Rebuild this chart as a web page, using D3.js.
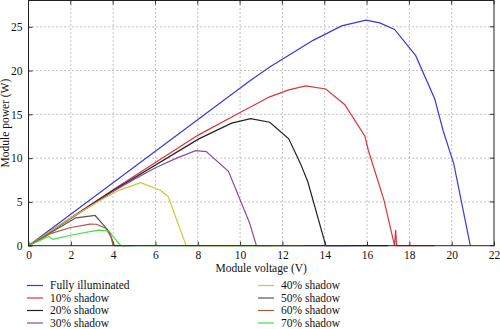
<!DOCTYPE html>
<html><head><meta charset="utf-8">
<script src="https://cdn.jsdelivr.net/npm/d3@7"></script>
<style>body{margin:0;background:#fff}svg{display:block;font-family:"Liberation Serif","DejaVu Serif",serif}</style>
</head><body><svg id="c" width="500" height="329"></svg>
<script>
const seriesNames = ["Fully illuminated","10% shadow","20% shadow","30% shadow","40% shadow","50% shadow","60% shadow","70% shadow"];
const seriesColors = ["#3a3ad2","#d8343e","#222222","#8a4a9e","#c9c935","#555555","#a85a3c","#3ee03e"];
const xTicks = [0,2,4,6,8,10,12,14,16,18,20,22];
const yTicks = [0,5,10,15,20,25];
// [voltage, power] per series
const fully = [[0,0],[10.45,18.8],[11.4,20.4],[13.45,23.45],[14.8,25.1],[15.95,25.75],[16.6,25.45],[17.3,24.7],[18.3,21.7],[19.2,16.75],[19.6,13.1],[20.1,9.35],[20.88,0]];
const shade10 = [[0,0],[4,6.4],[8,12.6],[10,15.2],[11.4,17.0],[12.3,17.8],[13.1,18.25],[14.05,17.9],[14.95,16.1],[15.9,12.5],[16.06,10.9],[16.8,5.2],[17.3,0],[17.35,1.8],[17.4,0],[19.2,0]];
const shade20 = [[0,0],[4,6.3],[8.05,12.2],[9.6,14.0],[10.5,14.5],[11.4,14.1],[12.3,12.2],[12.85,9.4],[13.2,7.3],[14.05,0],[17.0,0]];
const shade30 = [[0,0],[4,6.2],[5,7.6],[6,8.9],[7,10.0],[7.9,10.85],[8.4,10.75],[9.45,8.5],[10.45,2.6],[10.77,0],[15.2,0]];
const shade40 = [[0,0],[2,3.2],[3.4,5.2],[4.3,6.35],[5.3,7.2],[6.25,6.3],[6.6,5.6],[7.45,0],[13.0,0]];
const shade50 = [[0,0],[2.24,3.18],[3.15,3.45],[3.82,1.6],[4.05,0],[5,0]];
const shade60 = [[0,0],[1,1.35],[1.95,2.05],[2.9,2.47],[3.2,2.45],[3.65,2.0],[3.9,1.0],[4.0,0]];
const shade70 = [[0,0],[0.95,1.05],[1.15,0.72],[2.1,1.25],[3.3,1.78],[3.8,1.68],[4.2,0.45],[4.37,0],[11.5,0]];
const seriesData = [fully,shade10,shade20,shade30,shade40,shade50,shade60,shade70];

const svg = d3.select("#c");
const L=28.5, R=494, T=0.5, B=245.7;
const x = d3.scaleLinear().domain([0,22]).range([L,R]);
const y = d3.scaleLinear().domain([0,28]).range([B,T]);

// grid
const g = svg.append("g");
g.selectAll(".gx").data(xTicks.slice(1,-1)).enter().append("line")
 .attr("x1",d=>x(d)).attr("x2",d=>x(d)).attr("y1",T).attr("y2",B)
 .attr("stroke","#777").attr("stroke-width",0.9).attr("stroke-dasharray","1,3");
g.selectAll(".gy").data(yTicks.slice(1)).enter().append("line")
 .attr("y1",d=>y(d)).attr("y2",d=>y(d)).attr("x1",L).attr("x2",R)
 .attr("stroke","#777").attr("stroke-width",0.9).attr("stroke-dasharray","1,3");

// axes
const fs = 11.5;
const xa = svg.append("g").attr("transform",`translate(0,${B})`)
 .call(d3.axisBottom(x).tickValues(xTicks).tickSize(-4).tickPadding(5));
const ya = svg.append("g").attr("transform",`translate(${L},0)`)
 .call(d3.axisLeft(y).tickValues(yTicks).tickSize(-4).tickPadding(6));
[xa,ya].forEach(a=>{a.select(".domain").remove();a.selectAll("text").attr("font-size",fs).attr("font-family","Liberation Serif").attr("fill","#111");a.selectAll("line").attr("stroke","#333");});
// top/right ticks
svg.append("g").selectAll("line").data(xTicks).enter().append("line")
 .attr("x1",d=>x(d)).attr("x2",d=>x(d)).attr("y1",T).attr("y2",T+4).attr("stroke","#333");
svg.append("g").selectAll("line").data(yTicks).enter().append("line")
 .attr("y1",d=>y(d)).attr("y2",d=>y(d)).attr("x1",R).attr("x2",R-4).attr("stroke","#333");

// lines
const line = d3.line().x(d=>x(d[0])).y(d=>y(d[1]));
svg.append("g").selectAll("path").data(seriesData).enter().append("path")
 .attr("d",line).attr("fill","none").attr("stroke",(d,i)=>seriesColors[i]).attr("stroke-width",1.2);

// frame
svg.append("rect").attr("x",L).attr("y",T).attr("width",R-L).attr("height",B-T)
 .attr("fill","none").attr("stroke","#222").attr("stroke-width",1);

// axis titles
svg.append("text").attr("x",(L+R)/2).attr("y",272).attr("text-anchor","middle")
 .attr("font-size",fs).attr("fill","#111").text("Module voltage (V)");
svg.append("text").attr("transform",`translate(9,${(T+B)/2}) rotate(-90)`).attr("text-anchor","middle")
 .attr("font-size",fs).attr("fill","#111").text("Module power (W)");

// legend
const lg = svg.append("g");
seriesNames.forEach((n,i)=>{
  const col = Math.floor(i/4), row = i%4;
  const lx = col===0?27:258, ly = 285.5 + row*12.5;
  lg.append("line").attr("x1",lx).attr("x2",lx+16).attr("y1",ly).attr("y2",ly)
    .attr("stroke",seriesColors[i]).attr("stroke-width",1.2);
  lg.append("text").attr("x",lx+23).attr("y",ly+3.5).attr("font-size",fs).attr("fill","#111").text(n);
});
</script></body></html>
